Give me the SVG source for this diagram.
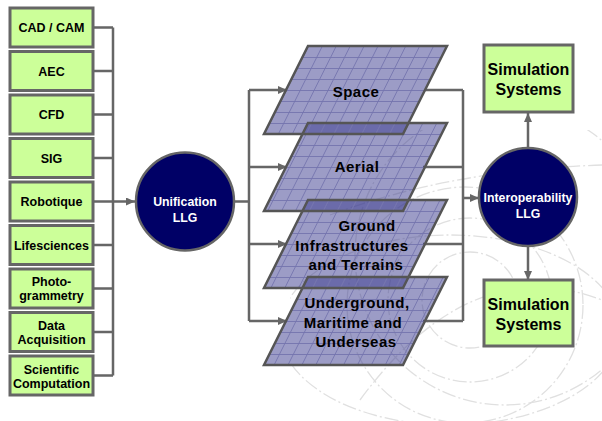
<svg xmlns="http://www.w3.org/2000/svg" width="602" height="421" viewBox="0 0 602 421">
<style>
.box{fill:#ccff99;stroke:#666;stroke-width:3}
.circ{fill:#000066;stroke:#666;stroke-width:2.5}
.t{font-family:"Liberation Sans",Arial,sans-serif;font-weight:bold;fill:#000;text-anchor:middle}
.s{font-size:12.5px}
.w{fill:#fff;font-size:12.3px}
.l{font-size:15px;letter-spacing:0.5px}
.sim{font-size:16px}
.c{fill:none;stroke:#666;stroke-width:2.5}
.lf{fill:#3a3a8e;fill-opacity:0.5;stroke:none}
.lg{fill:url(#grid);stroke:none}
.lo{fill:none;stroke:#555;stroke-width:2.5;stroke-linejoin:miter}
.bg{fill:none;stroke:#e0e0e0;stroke-width:1.3;stroke-dasharray:14 3 2 3}
</style>
<defs>
<marker id="ah" markerUnits="userSpaceOnUse" markerWidth="9" markerHeight="8" refX="9" refY="4" orient="auto">
<path d="M0,0 L9,4 L0,8 z" fill="#666"/>
</marker>
<pattern id="grid" width="13.9" height="11" patternUnits="userSpaceOnUse" patternTransform="translate(308,46) skewX(-26.565)">
<path d="M0 0.5H13.9M0.5 0V11" stroke="#7474ae" stroke-width="0.9" fill="none"/>
</pattern>
<clipPath id="bgclip"><rect x="290" y="130" width="312" height="291"/></clipPath>
</defs>
<rect width="602" height="421" fill="#fff"/>
<g id="background" clip-path="url(#bgclip)">
<circle class="bg" cx="470" cy="300" r="48"/>
<circle class="bg" cx="470" cy="300" r="82"/>
<circle class="bg" cx="465" cy="305" r="118"/>
<circle class="bg" cx="505" cy="255" r="150"/>
<ellipse class="bg" cx="450" cy="330" rx="170" ry="95"/>
<path class="bg" d="M330 215 Q450 170 602 165"/>
<path class="bg" d="M360 400 Q470 250 602 300"/>
</g>
<g id="connectors">
<path class="c" d="M93 27.5H113M93 71H113M93 114.5H113M93 158H113M93 245H113M93 288.5H113M93 332H113M93 375.5H113M113 27.5V375.5"/>
<path class="c" d="M93 201.5H135" marker-end="url(#ah)"/>
<path class="c" d="M234 201.5H249M249 90V321"/>
<path class="c" d="M249 90H287" marker-end="url(#ah)"/>
<path class="c" d="M249 167H287" marker-end="url(#ah)"/>
<path class="c" d="M249 244H287" marker-end="url(#ah)"/>
<path class="c" d="M249 321H287" marker-end="url(#ah)"/>
<path class="c" d="M425 90H463M423 167H463M423 244H463M423 321H463M463 90V321"/>
<path class="c" d="M463 198H479" marker-end="url(#ah)"/>
<path class="c" d="M528 148V113" marker-end="url(#ah)"/>
<path class="c" d="M528 246V280" marker-end="url(#ah)"/>
</g>
<g id="layers">
<path class="lf" d="M308 46H447L403 134H264Z"/>
<path class="lf" d="M308 123H447L403 211H264Z"/>
<path class="lf" d="M308 200H447L403 288H264Z"/>
<path class="lf" d="M308 277H447L403 365H264Z"/>
<path class="lg" d="M308 46H447L403 134H264Z"/>
<path class="lg" d="M308 123H447L403 211H264Z"/>
<path class="lg" d="M308 200H447L403 288H264Z"/>
<path class="lg" d="M308 277H447L403 365H264Z"/>
<path class="lo" d="M308 46H447L403 134H264Z"/>
<path class="lo" d="M308 123H447L403 211H264Z"/>
<path class="lo" d="M308 200H447L403 288H264Z"/>
<path class="lo" d="M308 277H447L403 365H264Z"/>
</g>
<g id="layer-space"><text class="t l" x="356" y="97">Space</text></g>
<g id="layer-aerial"><text class="t l" x="357" y="172">Aerial</text></g>
<g id="layer-ground">
<text class="t l" x="367" y="231">Ground</text>
<text class="t l" x="352" y="251">Infrastructures</text>
<text class="t l" x="356" y="270">and Terrains</text>
</g>
<g id="layer-underground">
<text class="t l" x="357" y="308">Underground,</text>
<text class="t l" x="353" y="328">Maritime and</text>
<text class="t l" x="356" y="347">Underseas</text>
</g>
<g id="cadcam"><rect class="box" x="10" y="8" width="83" height="39"/><text class="t s" x="51.5" y="32">CAD / CAM</text></g>
<g id="aec"><rect class="box" x="10" y="51.5" width="83" height="39"/><text class="t s" x="51.5" y="75.5">AEC</text></g>
<g id="cfd"><rect class="box" x="10" y="95" width="83" height="39"/><text class="t s" x="51.5" y="119">CFD</text></g>
<g id="sig"><rect class="box" x="10" y="138.5" width="83" height="39"/><text class="t s" x="51.5" y="162.5">SIG</text></g>
<g id="robotique"><rect class="box" x="10" y="182" width="83" height="39"/><text class="t s" x="51.5" y="206">Robotique</text></g>
<g id="lifesciences"><rect class="box" x="10" y="225.5" width="83" height="39"/><text class="t s" x="51.5" y="249.5">Lifesciences</text></g>
<g id="photogrammetry"><rect class="box" x="10" y="269" width="83" height="39"/><text class="t s" x="51.5" y="286">Photo-</text><text class="t s" x="51.5" y="300">grammetry</text></g>
<g id="data-acquisition"><rect class="box" x="10" y="312.5" width="83" height="39"/><text class="t s" x="51.5" y="330">Data</text><text class="t s" x="51.5" y="344">Acquisition</text></g>
<g id="scientific-computation"><rect class="box" x="10" y="356" width="83" height="39"/><text class="t s" x="51.5" y="373.5">Scientific</text><text class="t s" x="51.5" y="387.5">Computation</text></g>
<g id="unification"><circle class="circ" cx="185" cy="201.5" r="49"/><text class="t w" x="185" y="206">Unification</text><text class="t w" x="185" y="222">LLG</text></g>
<g id="interoperability"><circle class="circ" cx="528" cy="197" r="49"/><text class="t w" x="528" y="202">Interoperability</text><text class="t w" x="528" y="218">LLG</text></g>
<g id="sim-top"><rect class="box" x="484" y="45" width="89" height="67"/><text class="t sim" x="528.5" y="75">Simulation</text><text class="t sim" x="528.5" y="95">Systems</text></g>
<g id="sim-bottom"><rect class="box" x="484" y="280" width="89" height="66"/><text class="t sim" x="528.5" y="310">Simulation</text><text class="t sim" x="528.5" y="330">Systems</text></g>
</svg>
